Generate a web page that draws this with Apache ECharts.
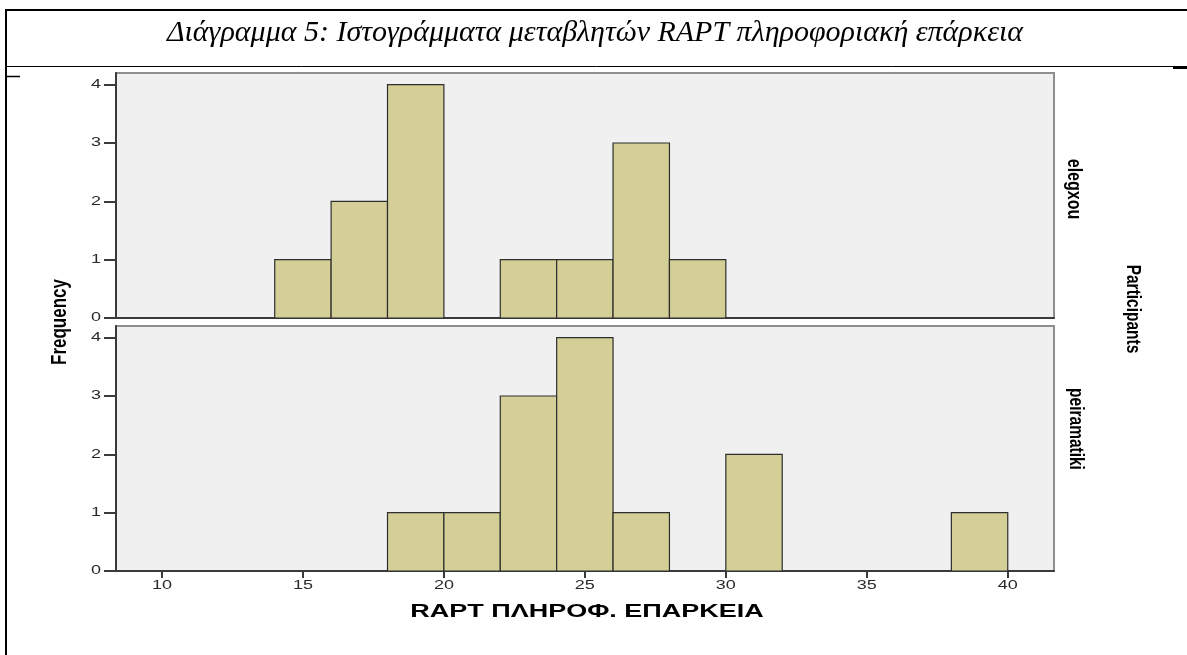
<!DOCTYPE html>
<html>
<head>
<meta charset="utf-8">
<script src="https://cdn.jsdelivr.net/npm/echarts@6/dist/echarts.min.js"></script>
<style>
  html, body { margin: 0; padding: 0; background: #ffffff; }
  #chart { width: 1187px; height: 655px; }
</style>
</head>
<body>
<div id="chart"></div>
<script>
// Histogram bins (lower edges, width 2) of the RAPT information-literacy score
const binStarts = [14, 16, 18, 20, 22, 24, 26, 28, 30, 32, 34, 36, 38];
const binWidth = 2;
// Frequencies per bin for each participant group
const elegxouCounts     = [1, 2, 4, 0, 1, 1, 3, 1, 0, 0, 0, 0, 0];
const peiramatikiCounts = [0, 0, 1, 1, 3, 4, 1, 0, 2, 0, 0, 0, 1];
// Axis tick labels
const xTicks = [10, 15, 20, 25, 30, 35, 40];
const yTicks = [0, 1, 2, 3, 4];
const groupNames = ['elegxou', 'peiramatiki'];

const titleText = 'Διάγραμμα 5: Ιστογράμματα μεταβλητών RAPT πληροφοριακή επάρκεια';
const xAxisTitle = 'RAPT ΠΛΗΡΟΦ. ΕΠΑΡΚΕΙΑ';

const X_MIN = 8.37, X_MAX = 41.64, Y_MAX = 4.2;

function binsFor(counts) {
  const rows = [];
  binStarts.forEach((s, i) => {
    if (counts[i] > 0) rows.push([s, s + binWidth, counts[i]]);
  });
  return rows;
}

const chart = echarts.init(document.getElementById('chart'), null, { renderer: 'canvas' });

const gridBase = {
  left: 116, right: 133, height: 245,
  show: true, backgroundColor: '#f0f0f0', borderColor: '#8e8e8e', borderWidth: 2
};
const axisDark = '#3a3a3a';

function xAxisFor(idx, showTicks) {
  return {
    type: 'value', gridIndex: idx, min: X_MIN, max: X_MAX,
    axisLine: { show: true, lineStyle: { color: axisDark, width: 2 } },
    axisTick: { show: showTicks, customValues: xTicks, length: 7, lineStyle: { color: axisDark, width: 2 } },
    axisLabel: { show: false },
    splitLine: { show: false }
  };
}
function yAxisFor(idx) {
  return {
    type: 'value', gridIndex: idx, min: 0, max: Y_MAX,
    axisLine: { show: true, lineStyle: { color: axisDark, width: 2 } },
    axisTick: { show: true, customValues: yTicks, length: 12, lineStyle: { color: axisDark, width: 2 } },
    axisLabel: { show: false },
    splitLine: { show: false }
  };
}

function histSeries(idx, counts) {
  return {
    type: 'custom', xAxisIndex: idx, yAxisIndex: idx,
    data: binsFor(counts),
    encode: { x: [0, 1], y: 2 },
    renderItem: function (params, api) {
      const top = api.coord([api.value(0), api.value(2)]);
      const base = api.coord([api.value(1), 0]);
      return {
        type: 'rect',
        shape: { x: top[0], y: top[1], width: base[0] - top[0], height: base[1] - top[1] },
        style: { fill: '#d3cf97', stroke: '#2e2e2e', lineWidth: 1.2 }
      };
    }
  };
}

chart.setOption({
  animation: false,
  backgroundColor: '#ffffff',
  grid: [
    Object.assign({ top: 73 }, gridBase),
    Object.assign({ top: 326 }, gridBase)
  ],
  xAxis: [xAxisFor(0, false), xAxisFor(1, true)],
  yAxis: [yAxisFor(0), yAxisFor(1)],
  series: [histSeries(0, elegxouCounts), histSeries(1, peiramatikiCounts)]
});

// Tick labels use the wide SPSS-style lettering, placed through the axes' scales
const tickFont = '12px "Liberation Sans", Arial, sans-serif';
const labelStretch = 1.5;
const sideStretch = 1.25;
const sideFont = '"Liberation Sans", Arial, sans-serif';
const graphics = [];

[0, 1].forEach(idx => {
  const axisX = chart.convertToPixel({ xAxisIndex: idx }, X_MIN);
  yTicks.forEach(v => {
    const py = chart.convertToPixel({ yAxisIndex: idx }, v);
    graphics.push({ type: 'text', x: axisX - 15, y: py, scaleX: labelStretch,
      style: { text: String(v), fill: '#2a2a2a', align: 'right', verticalAlign: 'middle', font: tickFont } });
  });
});
const xAxisY = chart.convertToPixel({ yAxisIndex: 1 }, 0);
xTicks.forEach(v => {
  const px = chart.convertToPixel({ xAxisIndex: 1 }, v);
  graphics.push({ type: 'text', x: px, y: xAxisY + 15, scaleX: labelStretch,
    style: { text: String(v), fill: '#2a2a2a', align: 'center', verticalAlign: 'middle', font: tickFont } });
});

graphics.push(
  // table frame around the caption
  { type: 'line', shape: { x1: 5, y1: 10, x2: 1187, y2: 10 }, style: { stroke: '#000', lineWidth: 2 } },
  { type: 'line', shape: { x1: 6, y1: 10, x2: 6, y2: 655 }, style: { stroke: '#000', lineWidth: 2 } },
  { type: 'line', shape: { x1: 6, y1: 66.5, x2: 1187, y2: 66.5 }, style: { stroke: '#000', lineWidth: 1 } },
  { type: 'line', shape: { x1: 7, y1: 76.5, x2: 20, y2: 76.5 }, style: { stroke: '#000', lineWidth: 1.5 } },
  { type: 'line', shape: { x1: 1173, y1: 68, x2: 1187, y2: 68 }, style: { stroke: '#000', lineWidth: 2 } },
  // caption
  { type: 'text', x: 595, y: 33,
    style: { text: titleText, fill: '#000', align: 'center', verticalAlign: 'middle',
             font: 'italic 30px "Liberation Serif", "Times New Roman", serif' } },
  // axis titles
  { type: 'text', x: 587, y: 612, scaleX: labelStretch,
    style: { text: xAxisTitle, fill: '#000', align: 'center', verticalAlign: 'middle',
             font: 'bold 18px ' + sideFont } },
  { type: 'text', x: 60, y: 322, rotation: Math.PI / 2, scaleY: sideStretch,
    style: { text: 'Frequency', fill: '#000', align: 'center', verticalAlign: 'middle',
             font: 'bold 17px ' + sideFont } },
  { type: 'text', x: 1132, y: 309, rotation: -Math.PI / 2, scaleY: sideStretch,
    style: { text: 'Participants', fill: '#000', align: 'center', verticalAlign: 'middle',
             font: 'bold 15.5px ' + sideFont } },
  { type: 'text', x: 1074, y: 189, rotation: -Math.PI / 2, scaleY: sideStretch,
    style: { text: groupNames[0], fill: '#000', align: 'center', verticalAlign: 'middle',
             font: 'bold 16px ' + sideFont } },
  { type: 'text', x: 1075, y: 429, rotation: -Math.PI / 2, scaleY: sideStretch,
    style: { text: groupNames[1], fill: '#000', align: 'center', verticalAlign: 'middle',
             font: 'bold 15.5px ' + sideFont } }
);

chart.setOption({ graphic: graphics });
</script>
</body>
</html>
